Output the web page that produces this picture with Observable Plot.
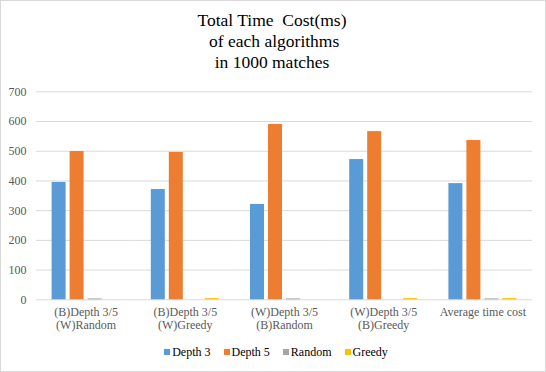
<!DOCTYPE html>
<html>
<head>
<meta charset="utf-8">
<script src="https://cdn.jsdelivr.net/npm/d3@7"></script>
<script src="https://cdn.jsdelivr.net/npm/@observablehq/plot@0.6"></script>
<style>
  html, body { margin: 0; padding: 0; background: #fff; }
  #wrap { position: relative; width: 546px; height: 372px; overflow: hidden; font-family: "Liberation Serif", "Times New Roman", serif; }
  #border { position: absolute; left: 0; top: 0; width: 546px; height: 372px; box-sizing: border-box; border: 1px solid #d9d9d9; pointer-events: none; }
  #title { position: absolute; left: 0; top: 10px; width: 544px; text-align: center; font-size: 17.5px; line-height: 21px; color: #000; white-space: pre; }
  #chart { position: absolute; left: 0; top: 80px; }
  #legend { position: absolute; left: 0; top: 343px; width: 552px; display: flex; justify-content: center; font-size: 12px; color: #000; line-height: 18px; }
  .item { display: flex; align-items: center; margin: 0 6.5px; }
  .sw { width: 6px; height: 6px; margin-right: 2px; }
</style>
</head>
<body>
<div id="wrap">
  <div id="title"></div>
  <div id="chart"></div>
  <div id="legend"></div>
  <div id="border"></div>
</div>
<script>
const titleLines = ["Total Time  Cost(ms)", " of each algorithms", "in 1000 matches"];
const groups = [
  "(B)Depth 3/5\n(W)Random",
  "(B)Depth 3/5\n(W)Greedy",
  "(W)Depth 3/5\n(B)Random",
  "(W)Depth 3/5\n(B)Greedy",
  "Average time cost"
];
const series = ["Depth 3", "Depth 5", "Random", "Greedy"];
const colors = ["#5B9BD5", "#ED7D31", "#A5A5A5", "#FFC000"];
const depth3 = [395, 371, 321, 472, 391];
const depth5 = [499, 496, 590, 566, 536];
const random = [3, 0, 3, 0, 3];
const greedy = [0, 4, 0, 4, 4];
const yTicks = [0, 100, 200, 300, 400, 500, 600, 700];

const seriesValues = [depth3, depth5, random, greedy];
const data = [];
groups.forEach((g, gi) => {
  series.forEach((s, si) => {
    data.push({group: g, series: s, value: seriesValues[si][gi]});
  });
});

document.getElementById("title").textContent = titleLines.join("\n");

const FONT = '"Liberation Serif", "Times New Roman", serif';
const chart = Plot.plot({
  width: 546,
  height: 260,
  marginTop: 11.3,
  marginBottom: 40.7,
  marginLeft: 36,
  marginRight: 14,
  style: {fontFamily: FONT, fontSize: "12px", color: "#595959", background: "transparent"},
  fx: {domain: groups, padding: 0, round: false},
  x: {domain: series, paddingInner: 0.222, paddingOuter: 0.867, axis: null, round: false},
  y: {domain: [0, 700], axis: null},
  color: {domain: series, range: colors},
  marks: [
    Plot.ruleY(yTicks, {stroke: "#d9d9d9", strokeWidth: 1}),
    Plot.barY(data, {fx: "group", x: "series", y: "value", fill: "series"}),
    Plot.axisY(yTicks, {anchor: "left", facetAnchor: "left", tickSize: 0, tickPadding: 10, label: null, fontSize: 12, fontFamily: FONT, fill: "#595959"}),
    Plot.axisFx({anchor: "bottom", tickSize: 0, tickPadding: 7, label: null, fontSize: 12, fontFamily: FONT, lineHeight: 1.1, fill: "#595959", tickFormat: d => d})
  ]
});
document.getElementById("chart").appendChild(chart);

const legend = document.getElementById("legend");
series.forEach((s, i) => {
  const item = document.createElement("div");
  item.className = "item";
  const sw = document.createElement("div");
  sw.className = "sw";
  sw.style.background = colors[i];
  const t = document.createElement("span");
  t.textContent = s;
  item.appendChild(sw);
  item.appendChild(t);
  legend.appendChild(item);
});
</script>
</body>
</html>
